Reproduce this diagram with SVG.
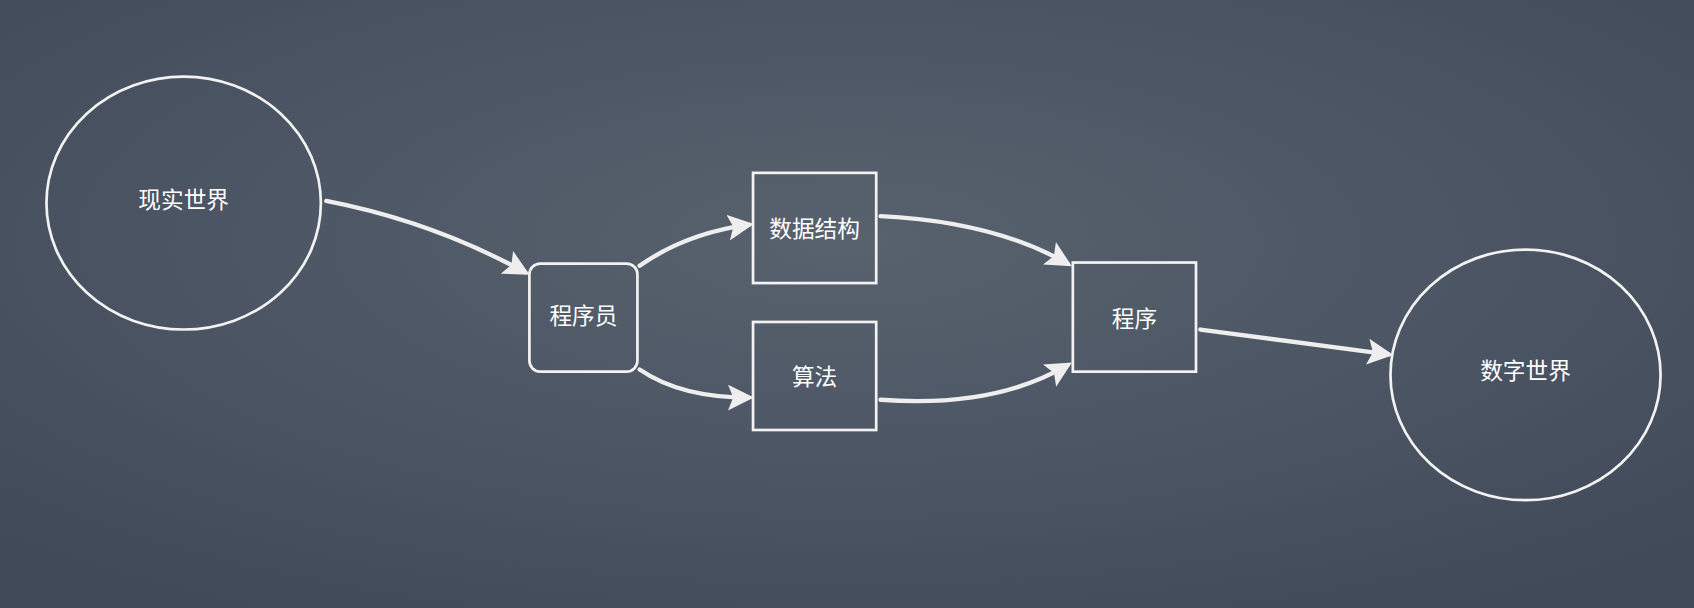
<svg xmlns="http://www.w3.org/2000/svg" width="1694" height="608" viewBox="0 0 1694 608">
<style>
.s{fill:none;stroke:#f2f2f2;stroke-width:2.5}
.c{fill:none;stroke:#eeeeee;stroke-width:4;stroke-linecap:round}
text{font-family:"Noto Sans CJK SC",sans-serif;font-size:21px;fill:#ffffff;text-anchor:middle;dominant-baseline:central}
</style>
<defs>
<radialGradient id="bg" cx="50%" cy="40%" r="70%">
<stop offset="0" stop-color="#58626f"/>
<stop offset="1" stop-color="#414a59"/>
</radialGradient>
<marker id="a" viewBox="0 0 10 10" refX="8" refY="5" markerWidth="6" markerHeight="6" orient="auto" markerUnits="strokeWidth">
<path d="M0,0 L10,5 L0,10 L2,5 z" fill="#eeeeee"/>
</marker>
</defs>
<rect width="1694" height="608" fill="url(#bg)"/>
<g transform="scale(1.0804)">
<g id="n1"><ellipse class="s" cx="170" cy="188" rx="127" ry="117"/><text x="170" y="184">现实世界</text></g>
<g id="n2"><rect class="s" x="490" y="244" width="100" height="100" rx="10"/><text x="540" y="291">程序员</text></g>
<g id="n3"><rect class="s" x="697" y="160" width="114" height="102"/><text x="754" y="211">数据结构</text></g>
<g id="n4"><rect class="s" x="697" y="298" width="114" height="100"/><text x="754" y="348">算法</text></g>
<g id="n5"><rect class="s" x="993" y="243" width="114" height="101"/><text x="1050" y="294">程序</text></g>
<g id="n6"><ellipse class="s" cx="1412" cy="347" rx="125" ry="116"/><text x="1412" y="342">数字世界</text></g>
<g id="edges">
<path class="c" marker-end="url(#a)" d="M302,186 Q400,205 486,252"/>
<path class="c" marker-end="url(#a)" d="M592,246 Q635,216 693,208"/>
<path class="c" marker-end="url(#a)" d="M592,342 Q630,368 693,368"/>
<path class="c" marker-end="url(#a)" d="M815,200 Q920,205 988,244"/>
<path class="c" marker-end="url(#a)" d="M815,370 Q920,378 988,338"/>
<path class="c" marker-end="url(#a)" d="M1111,305 L1285,328"/>
</g>
</g>
</svg>
